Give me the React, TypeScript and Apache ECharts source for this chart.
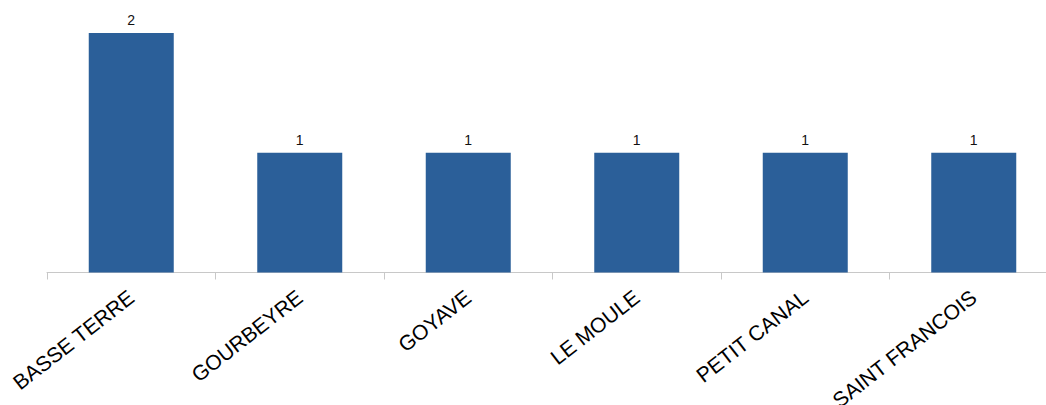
import React, { useEffect, useRef } from "react";
import * as echarts from "echarts";

const categories = ["BASSE TERRE", "GOURBEYRE", "GOYAVE", "LE MOULE", "PETIT CANAL", "SAINT FRANCOIS"];
const values = [2, 1, 1, 1, 1, 1];

export default function App() {
  const ref = useRef<HTMLDivElement>(null);
  useEffect(() => {
    if (!ref.current) return;
    const chart = echarts.init(ref.current, null, { renderer: "svg" });
    chart.setOption({
      animation: false,
      backgroundColor: "#ffffff",
      grid: { left: 47, right: 12, top: 33, bottom: 132.5, containLabel: false, outerBoundsMode: "none" },
      xAxis: {
        type: "category",
        data: categories,
        axisLine: { lineStyle: { color: "#c8c8c8", width: 1 } },
        axisTick: { show: true, length: 7, lineStyle: { color: "#c8c8c8" } },
        axisLabel: {
          rotate: 38,
          margin: 22,
          fontFamily: "Liberation Sans, Arial, sans-serif",
          fontSize: 21,
          color: "#000000",
          interval: 0,
        },
      },
      yAxis: {
        type: "value",
        min: 0,
        max: 2,
        show: false,
        splitLine: { show: false },
      },
      series: [
        {
          type: "bar",
          data: values,
          barWidth: 85,
          itemStyle: { color: "#2b5f99" },
          label: {
            show: true,
            position: "top",
            distance: 6,
            fontFamily: "Liberation Sans, Arial, sans-serif",
            fontSize: 14,
            color: "#111111",
          },
        },
      ],
    });
    return () => chart.dispose();
  }, []);
  return (
    <div style={{ position: "fixed", left: 0, top: 0, width: 1046, height: 405, overflow: "hidden", background: "#fff" }}>
      <div ref={ref} style={{ width: 1070, height: 405 }} />
    </div>
  );
}
